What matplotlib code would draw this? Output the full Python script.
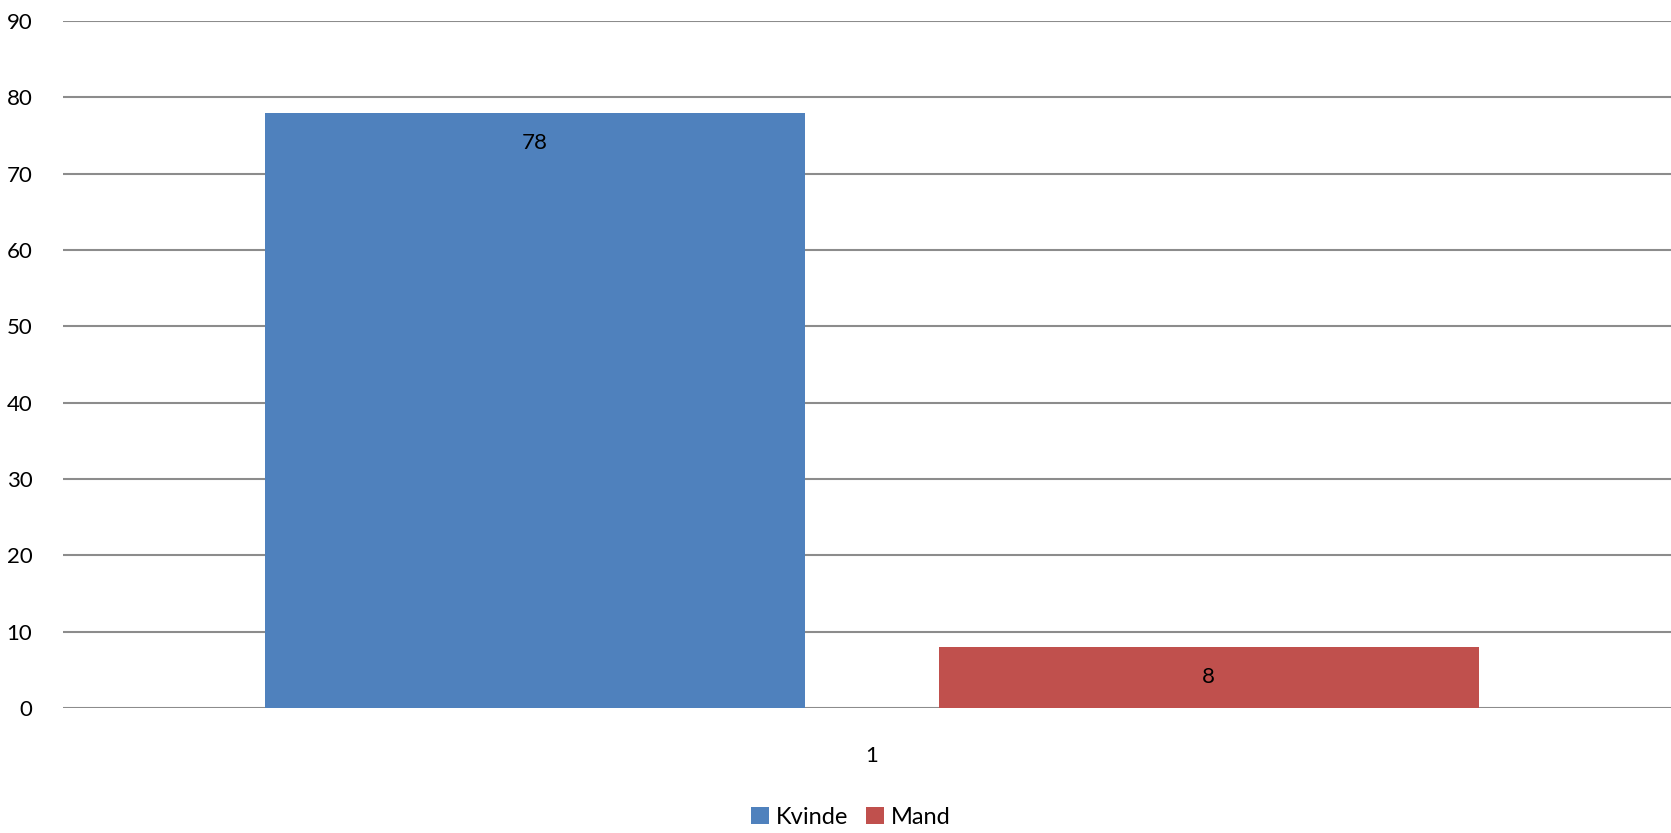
import numpy as np
import matplotlib.pyplot as plt

plt.rcParams['font.family'] = ['Lato', 'DejaVu Sans']

series = ['Kvinde', 'Mand']
values = [78, 8]
colors = ['#4f81bd', '#c0504d']
category = '1'

fig = plt.figure(figsize=(16.71, 8.33), dpi=100)
ax = fig.add_axes([63 / 1671, 1 - 708 / 833, 1608 / 1671, (708 - 21) / 833])

xs = [-0.624, 0.624]
bars = ax.bar(xs, values, width=1.0, color=colors, label=series, zorder=2)
for b, v in zip(bars, values):
    ax.annotate(str(v), (b.get_x() + b.get_width() / 2, v), xytext=(0, -30),
                textcoords='offset pixels', ha='center', va='center', fontsize=16)

ax.set_xlim(-1.498, 1.48)
ax.set_ylim(0, 90)
ax.set_yticks(np.arange(0, 91, 10))
ax.set_xticks([0])
ax.set_xticklabels([category])
ax.tick_params(axis='both', length=0, labelsize=16)
ax.tick_params(axis='y', pad=22)
ax.tick_params(axis='x', pad=27)
ax.grid(axis='y', color='#8c8c8c', linewidth=1.5, zorder=0)
for s in ax.spines.values():
    s.set_visible(False)

ax.legend(loc='lower center', bbox_to_anchor=(0.49, -0.205), ncol=2, frameon=False,
          fontsize=17, handlelength=0.75, handleheight=0.75, handletextpad=0.3,
          columnspacing=0.75)

fig.savefig('out.png', dpi=100)
